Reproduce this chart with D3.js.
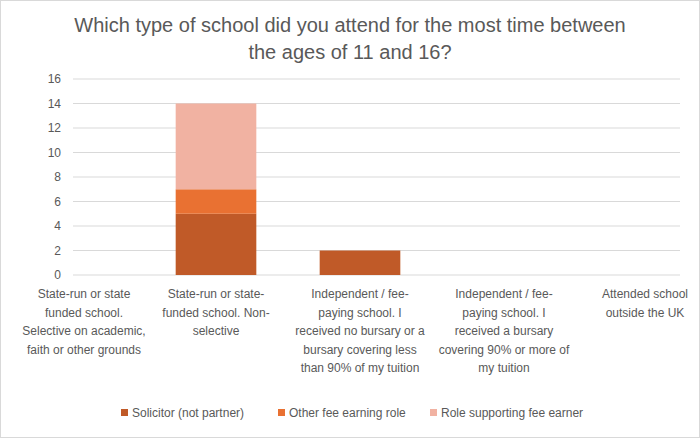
<!DOCTYPE html>
<html><head><meta charset="utf-8">
<script src="https://cdn.jsdelivr.net/npm/d3@7"></script>
<style>body{margin:0;background:#fff}svg{font-family:"Liberation Sans",Arial,sans-serif}</style>
</head><body><div id="vis"></div>
<script>
const categories = [
  ["State-run or state", "funded school.", "Selective on academic,", "faith or other grounds"],
  ["State-run or state-", "funded school. Non-", "selective"],
  ["Independent / fee-", "paying school. I", "received no bursary or a", "bursary covering less", "than 90% of my tuition"],
  ["Independent / fee-", "paying school. I", "received a bursary", "covering 90% or more of", "my tuition"],
  ["Attended school", "outside the UK"]
];
const seriesNames = ["Solicitor (not partner)", "Other fee earning role", "Role supporting fee earner"];
const solicitor = [0, 5, 2, 0, 0];
const otherFee = [0, 2, 0, 0, 0];
const supporting = [0, 7, 0, 0, 0];
const yTicks = [0, 2, 4, 6, 8, 10, 12, 14, 16];
const colors = ["#c05a28", "#e97132", "#f1b2a2"];

const W = 700, H = 438;
const svg = d3.select("#vis").append("svg").attr("width", W).attr("height", H);
svg.append("rect").attr("x", 0.5).attr("y", 0.5).attr("width", W - 1).attr("height", H - 1)
  .attr("fill", "#fff").attr("stroke", "#d9d9d9");

// Title
svg.append("text").attr("x", 350).attr("text-anchor", "middle").attr("fill", "#595959")
  .style("font-size", "20px")
  .selectAll("tspan").data(["Which type of school did you attend for the most time between", "the ages of 11 and 16?"])
  .enter().append("tspan").attr("x", 350).attr("y", (d, i) => 32 + i * 27).text(d => d);

const x = d3.scaleBand().domain(d3.range(5)).range([0, 720]).paddingInner(0.44).paddingOuter(0.22);
const y = d3.scaleLinear().domain([0, 16]).range([275, 79]);

// Gridlines and tick labels
svg.selectAll(".grid").data(yTicks).enter().append("line")
  .attr("x1", 73).attr("x2", 680).attr("y1", d => y(d)).attr("y2", d => y(d))
  .attr("stroke", "#d9d9d9").attr("stroke-width", 1);
svg.selectAll(".tick").data(yTicks).enter().append("text")
  .attr("x", 61).attr("y", d => y(d) + 4).attr("text-anchor", "end")
  .attr("fill", "#595959").style("font-size", "12px").text(d => d);

// Stacked bars
const rows = categories.map((c, i) => ({ i, s0: solicitor[i], s1: otherFee[i], s2: supporting[i] }));
const stack = d3.stack().keys(["s0", "s1", "s2"])(rows);
stack.forEach((layer, k) => {
  svg.selectAll(".bar" + k).data(layer.filter(d => d[1] > d[0])).enter().append("rect")
    .attr("x", d => x(d.data.i)).attr("width", x.bandwidth())
    .attr("y", d => y(d[1])).attr("height", d => y(d[0]) - y(d[1]))
    .attr("fill", colors[k]);
});

// Category labels
categories.forEach((lines, i) => {
  const cx = Math.min(645, Math.max(84, x(i) + x.bandwidth() / 2));
  svg.append("text").attr("text-anchor", "middle").attr("fill", "#595959").style("font-size", "12px")
    .selectAll("tspan").data(lines).enter().append("tspan")
    .attr("x", cx).attr("y", (d, j) => 298 + j * 18.5).text(d => d);
});

// Legend
const legendX = [121, 278, 430];
seriesNames.forEach((n, k) => {
  svg.append("rect").attr("x", legendX[k]).attr("y", 409).attr("width", 7).attr("height", 7).attr("fill", colors[k]);
  svg.append("text").attr("x", legendX[k] + 11).attr("y", 417).attr("fill", "#595959")
    .style("font-size", "12px").text(n);
});
</script></body></html>
